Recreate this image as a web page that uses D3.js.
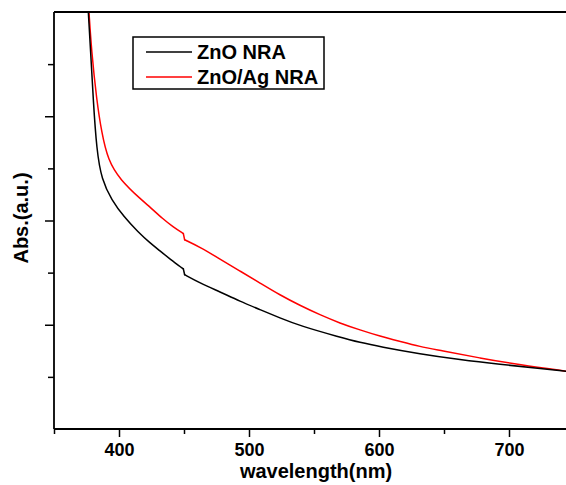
<!DOCTYPE html>
<html>
<head>
<meta charset="utf-8">
<script src="https://cdn.jsdelivr.net/npm/d3@7"></script>
<style>
  body { margin: 0; background: #fff; }
  svg { display: block; font-family: "Liberation Sans", Arial, sans-serif; }
</style>
</head>
<body>
<svg id="chart" width="566" height="485"></svg>
<script>
// wavelength (nm) / absorbance (a.u.)
const znoWl  = [376.4, 378.1, 380.2, 382.8, 386.7, 394.4, 403.8, 414.6, 423.8, 431.5, 439.2, 449.5, 450.5, 462.3, 477.7, 493.1, 508.5, 523.8, 539.2, 570.0, 585.4, 600.8, 631.5, 662.3, 693.1, 723.8, 743.8];
const znoAbs = [8.00,  7.27,  6.31,  5.35,  4.78,  4.39,  4.07,  3.78,  3.57,  3.42,  3.26,  3.07,  2.96,  2.80,  2.63,  2.45,  2.29,  2.13,  1.98,  1.76,  1.66,  1.58,  1.44,  1.33,  1.24,  1.16,  1.11];
const agWl   = [376.9, 378.8, 382.8, 386.7, 391.5, 400.8, 417.5, 423.8, 433.8, 441.5, 449.5, 450.5, 462.3, 477.7, 493.1, 508.5, 523.8, 539.2, 554.6, 570.0, 585.4, 600.8, 616.2, 631.5, 646.9, 677.7, 708.5, 743.8];
const agAbs  = [8.00,  7.27,  6.31,  5.68,  5.16,  4.78,  4.39,  4.26,  4.03,  3.88,  3.75,  3.63,  3.49,  3.26,  3.03,  2.80,  2.57,  2.37,  2.19,  2.03,  1.90,  1.78,  1.68,  1.58,  1.51,  1.36,  1.23,  1.11];

const seriesNames = ["ZnO NRA", "ZnO/Ag NRA"];
const jumpAt = 450; // small step in both spectra (lamp change)
const xMajor = [400, 500, 600, 700];
const xMinor = [350, 450, 550, 650];
const yMajor = [2, 4, 6];
const yMinor = [1, 3, 5, 7];

const svg = d3.select("#chart");
const margin = {top: 12, left: 54, bottom: 56};
const height = 485;

const x = d3.scaleLinear().domain([350, 750]).range([margin.left, margin.left + 520]);
const y = d3.scaleLinear().domain([0, 8]).range([height - margin.bottom, margin.top]);

svg.append("clipPath").attr("id", "clip")
  .append("rect")
  .attr("x", margin.left).attr("y", margin.top)
  .attr("width", 520).attr("height", y(0) - margin.top);

const smooth = d3.line()
  .x(d => x(d[0]))
  .y(d => y(d[1]))
  .curve(d3.curveBasis);
const straight = d3.line()
  .x(d => x(d[0]))
  .y(d => y(d[1]));

const series = [
  {name: seriesNames[0], pts: znoWl.map((w, i) => [w, znoAbs[i]]), color: "#000000"},
  {name: seriesNames[1], pts: agWl.map((w, i) => [w, agAbs[i]]), color: "#ff0000"}
];

// red first, black on top
[series[1], series[0]].forEach(s => {
  const before = s.pts.filter(d => d[0] < jumpAt);
  const after = s.pts.filter(d => d[0] >= jumpAt);
  const g = svg.append("g")
    .attr("clip-path", "url(#clip)")
    .attr("fill", "none")
    .attr("stroke", s.color)
    .attr("stroke-width", 1.5)
    .attr("stroke-linejoin", "round")
    .attr("stroke-linecap", "round");
  g.append("path").attr("d", smooth(before));
  g.append("path").attr("d", straight([before[before.length - 1], after[0]]));
  g.append("path").attr("d", smooth(after));
});

// axes
const bottom = svg.append("g").attr("transform", `translate(0,${y(0)})`);
bottom.call(d3.axisBottom(x).tickValues(xMajor).tickSize(8).tickPadding(6).tickFormat(d3.format("d")));
bottom.call(g => g.select(".domain").remove());
bottom.append("g").call(d3.axisBottom(x).tickValues(xMinor).tickSize(5).tickFormat(""))
  .call(g => g.select(".domain").remove());
bottom.selectAll("text")
  .attr("font-size", 18).attr("font-weight", "bold").attr("fill", "#000")
  .attr("font-family", "Liberation Sans, Arial, sans-serif");
bottom.selectAll("line").attr("stroke", "#000").attr("stroke-width", 1.5);

const left = svg.append("g").attr("transform", `translate(${margin.left},0)`);
left.call(d3.axisLeft(y).tickValues(yMajor).tickSize(9).tickFormat(""));
left.call(g => g.select(".domain").remove());
left.append("g").call(d3.axisLeft(y).tickValues(yMinor).tickSize(6).tickFormat(""))
  .call(g => g.select(".domain").remove());
left.selectAll("line").attr("stroke", "#000").attr("stroke-width", 1.5);

// frame lines
svg.append("line")
  .attr("x1", margin.left).attr("x2", 566)
  .attr("y1", y(0)).attr("y2", y(0))
  .attr("stroke", "#000").attr("stroke-width", 1.8);
svg.append("line")
  .attr("x1", margin.left).attr("x2", margin.left)
  .attr("y1", margin.top).attr("y2", y(0))
  .attr("stroke", "#000").attr("stroke-width", 1.8);
svg.append("line")
  .attr("x1", margin.left).attr("x2", 566)
  .attr("y1", margin.top).attr("y2", margin.top)
  .attr("stroke", "#000").attr("stroke-width", 1.8);

// axis titles
svg.append("text")
  .attr("x", 316).attr("y", 478)
  .attr("text-anchor", "middle")
  .attr("font-size", 20).attr("font-weight", "bold")
  .text("wavelength(nm)");

svg.append("text")
  .attr("transform", "translate(28,218) rotate(-90)")
  .attr("text-anchor", "middle")
  .attr("font-size", 20).attr("font-weight", "bold")
  .text("Abs.(a.u.)");

// legend
const legend = svg.append("g");
legend.append("rect")
  .attr("x", 133).attr("y", 37)
  .attr("width", 191).attr("height", 52)
  .attr("fill", "#fff").attr("stroke", "#000").attr("stroke-width", 1.5);
series.forEach((s, i) => {
  const ly = 52 + i * 25;
  legend.append("line")
    .attr("x1", 146).attr("x2", 192)
    .attr("y1", ly).attr("y2", ly)
    .attr("stroke", s.color).attr("stroke-width", 1.5);
  legend.append("text")
    .attr("x", 197).attr("y", ly + 7)
    .attr("font-size", 20).attr("font-weight", "bold")
    .text(s.name);
});
</script>
</body>
</html>
